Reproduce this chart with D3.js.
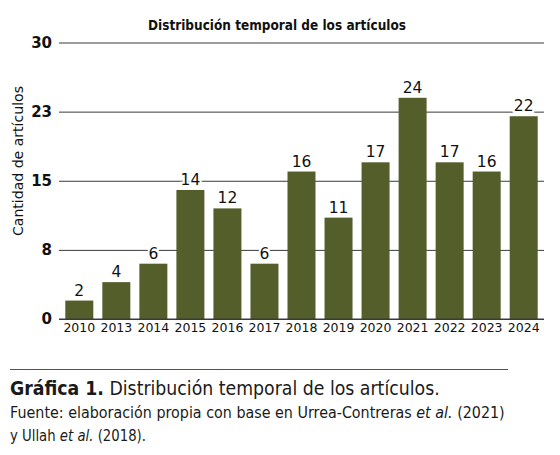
<!DOCTYPE html>
<html>
<head>
<meta charset="utf-8">
<script src="https://cdn.jsdelivr.net/npm/d3@7"></script>
<style>
  body { margin: 0; background: #fff; }
  text { font-family: "DejaVu Sans", Verdana, sans-serif; }
</style>
</head>
<body>
<svg width="560" height="455"></svg>
<script>
var svg = d3.select("svg");

var years = ["2010","2013","2014","2015","2016","2017","2018","2019","2020","2021","2022","2023","2024"];
var counts = [2, 4, 6, 14, 12, 6, 16, 11, 17, 24, 17, 16, 22];
var yTicks = [0, 7.5, 15, 22.5, 30];

var barColor = "#535e2b";

var x = d3.scaleBand()
  .domain(years)
  .range([59, 544])
  .paddingInner(0.244)
  .paddingOuter(0.17);

var y = d3.scaleLinear()
  .domain([0, 30])
  .range([319, 42.5]);

// grid lines + y labels
var yAxis = d3.axisLeft(y)
  .tickValues(yTicks)
  .tickSize(-(544 - 59))
  .tickFormat(d => d3.format(".0f")(Math.round(d)));

var gy = svg.append("g")
  .attr("transform", "translate(59,0)")
  .call(yAxis);
gy.select(".domain").remove();
gy.selectAll(".tick line").attr("stroke", "#3a3a3a").attr("stroke-width", 1);
gy.selectAll(".tick text")
  .attr("x", -7)
  .attr("font-size", 15)
  .attr("font-weight", "bold")
  .attr("fill", "#111");

// bars
svg.selectAll("rect.bar")
  .data(counts)
  .enter()
  .append("rect")
  .attr("class", "bar")
  .attr("x", (d, i) => x(years[i]))
  .attr("y", d => y(d))
  .attr("width", x.bandwidth())
  .attr("height", d => y(0) - y(d))
  .attr("fill", barColor);

// value labels (white halo over grid line)
svg.selectAll("text.val")
  .data(counts)
  .enter()
  .append("text")
  .attr("class", "val")
  .attr("x", (d, i) => x(years[i]) + x.bandwidth() / 2)
  .attr("y", d => y(d) - 5)
  .attr("text-anchor", "middle")
  .attr("font-size", 15.5)
  .attr("fill", "#111")
  .attr("stroke", "#fff")
  .attr("stroke-width", 4)
  .attr("paint-order", "stroke")
  .text(d => d);

// x axis
var xAxis = d3.axisBottom(x).tickSize(0).tickPadding(4);
var gx = svg.append("g")
  .attr("transform", "translate(0,319)")
  .call(xAxis);
gx.select(".domain").attr("d", "M59,0H544").attr("stroke", "#3a3a3a");
gx.selectAll(".tick text")
  .attr("font-size", 12.5)
  .attr("fill", "#111");

// chart title
svg.append("text")
  .attr("x", 277)
  .attr("y", 30)
  .attr("text-anchor", "middle")
  .attr("font-size", 13.5)
  .attr("font-weight", "bold")
  .attr("textLength", 258)
  .attr("lengthAdjust", "spacingAndGlyphs")
  .attr("fill", "#111")
  .text("Distribución temporal de los artículos");

// y title
svg.append("text")
  .attr("transform", "translate(23,161) rotate(-90)")
  .attr("text-anchor", "middle")
  .attr("font-size", 13.5)
  .attr("textLength", 150)
  .attr("lengthAdjust", "spacingAndGlyphs")
  .attr("fill", "#111")
  .text("Cantidad de artículos");

// caption block
svg.append("line")
  .attr("x1", 10).attr("x2", 508)
  .attr("y1", 369.5).attr("y2", 369.5)
  .attr("stroke", "#56563e")
  .attr("stroke-width", 1.2);

// squeeze a caption line horizontally to the given width
function fitWidth(sel, left, width) {
  var w = sel.node().getComputedTextLength();
  sel.attr("transform", "translate(" + left + ",0) scale(" + (width / w) + ",1)");
}

var cap = svg.append("text")
  .attr("x", 0)
  .attr("y", 395)
  .attr("font-family", "'Noto Sans', sans-serif")
  .attr("font-size", 20)
  .attr("fill", "#1a1a1a");
cap.append("tspan").attr("font-weight", "bold").text("Gráfica 1.");
cap.append("tspan").text(" Distribución temporal de los artículos.");
fitWidth(cap, 10, 430);

var src1 = svg.append("text")
  .attr("x", 0)
  .attr("y", 418)
  .attr("font-family", "'Noto Sans', sans-serif")
  .attr("font-size", 16)
  .attr("fill", "#1a1a1a");
src1.append("tspan").text("Fuente: elaboración propia con base en Urrea-Contreras ");
src1.append("tspan").attr("font-style", "italic").text("et al.");
src1.append("tspan").text(" (2021)");
fitWidth(src1, 10, 495);

var src2 = svg.append("text")
  .attr("x", 0)
  .attr("y", 441)
  .attr("font-family", "'Noto Sans', sans-serif")
  .attr("font-size", 16)
  .attr("fill", "#1a1a1a");
src2.append("tspan").text("y Ullah ");
src2.append("tspan").attr("font-style", "italic").text("et al.");
src2.append("tspan").text(" (2018).");
fitWidth(src2, 10, 136);
</script>
</body>
</html>
